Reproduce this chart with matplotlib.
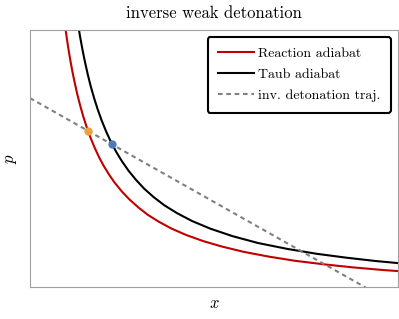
import matplotlib
matplotlib.use("Agg")
import matplotlib.pyplot as plt

plt.rcParams['font.family'] = 'serif'
plt.rcParams['font.serif'] = ['cmr10']
plt.rcParams['mathtext.fontset'] = 'cm'
plt.rcParams['axes.formatter.use_mathtext'] = True

# reaction adiabat (arbitrary units)
x_reac = [0.095, 0.100, 0.105, 0.110, 0.115, 0.120, 0.128, 0.136, 0.145, 0.155,
          0.165, 0.176, 0.188, 0.200, 0.215, 0.230, 0.250, 0.270, 0.295, 0.320,
          0.350, 0.385, 0.425, 0.47, 0.52, 0.58, 0.65, 0.72, 0.80, 0.88, 0.96, 1.0]
p_reac = [1.019, 0.968, 0.921, 0.879, 0.840, 0.805, 0.753, 0.708, 0.662, 0.618,
          0.579, 0.541, 0.504, 0.472, 0.437, 0.406, 0.371, 0.341, 0.309, 0.281,
          0.254, 0.227, 0.202, 0.179, 0.158, 0.137, 0.118, 0.102, 0.088, 0.076, 0.066, 0.062]

# taub adiabat
x_taub = [0.120, 0.125, 0.130, 0.136, 0.142, 0.149, 0.157, 0.165, 0.174, 0.184,
          0.195, 0.207, 0.220, 0.235, 0.250, 0.268, 0.288, 0.310, 0.335, 0.365,
          0.40, 0.44, 0.49, 0.55, 0.62, 0.70, 0.78, 0.86, 0.94, 1.0]
p_taub = [1.127, 1.075, 1.027, 0.975, 0.928, 0.878, 0.827, 0.781, 0.736, 0.691,
          0.647, 0.605, 0.564, 0.524, 0.489, 0.452, 0.417, 0.383, 0.351, 0.318,
          0.287, 0.257, 0.227, 0.198, 0.171, 0.148, 0.129, 0.114, 0.101, 0.093]

# detonation trajectory (straight line)
x_traj = [0.0, 1.0]
p_traj = [0.735, -0.073]

# intersection points
pt_reac = (0.1576, 0.607)
pt_taub = (0.2228, 0.556)

fig = plt.figure(figsize=(3.99, 3.19), dpi=100)
ax = fig.add_axes([30/399, 32/319, 368/399, 257/319])

ax.plot(x_reac, p_reac, color='#c00000', lw=1.5, label='Reaction adiabat')
ax.plot(x_taub, p_taub, color='black', lw=1.5, label='Taub adiabat')
ax.plot(x_traj, p_traj, color='gray', lw=1.5, ls=(0, (2.2, 1.8)),
        label='inv. detonation traj.')
ax.plot(*pt_reac, 'o', color='#e8a33a', ms=5, zorder=5)
ax.plot(*pt_taub, 'o', color='#4f7bb8', ms=5, zorder=5)

ax.set_xlim(0, 1)
ax.set_ylim(0, 1)
ax.set_xticks([])
ax.set_yticks([])
for s in ax.spines.values():
    s.set_color('#a0a0a0')

ax.set_xlabel('$x$', fontsize=12, labelpad=6)
ax.set_ylabel('$p$', fontsize=12, labelpad=8)
ax.set_title('inverse weak detonation', fontsize=12, pad=9)

leg = ax.legend(loc='upper right', fontsize=10, fancybox=True, framealpha=1,
                edgecolor='black', handlelength=2.6, handletextpad=0.3,
                borderpad=0.75, labelspacing=0.6, borderaxespad=0.5)
leg.get_frame().set_linewidth(1.5)

fig.savefig('out.png', dpi=100)
